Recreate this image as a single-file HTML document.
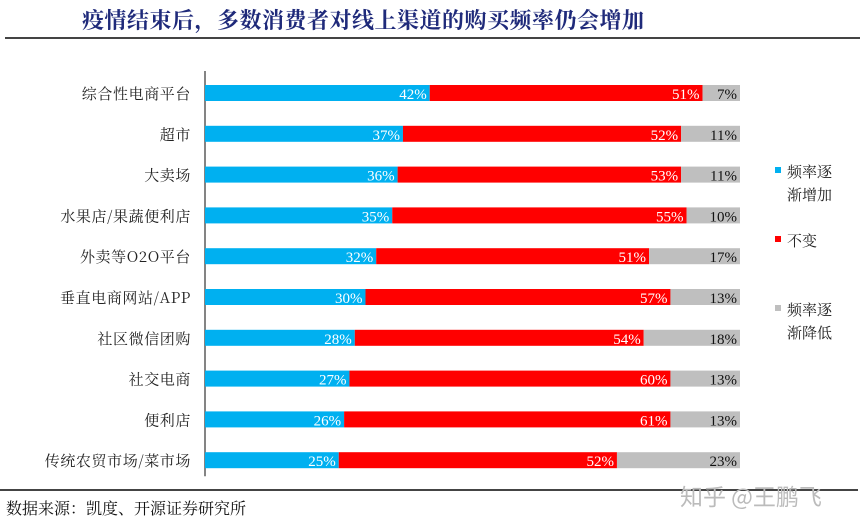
<!DOCTYPE html>
<html><head><meta charset="utf-8"><style>
body{margin:0;background:#fff;width:864px;height:529px;overflow:hidden;position:relative;font-family:"Liberation Serif","Noto Serif CJK SC",serif}
.t{position:absolute}
</style></head><body>
<div class="t" style="left:82px;top:4px;font-size:22px;font-weight:bold;color:#1f2a7a;font-family:'Noto Serif CJK SC',serif;letter-spacing:0.5px">疫情结束后，多数消费者对线上渠道的购买频率仍会增加</div>
<div class="t" style="left:5px;top:37px;width:855px;height:2px;background:#444"></div>
<svg class="t" style="left:0;top:0" width="864" height="529" id="chart"></svg>
<div class="t" style="left:0;top:489px;width:858px;height:2px;background:#444"></div>
<div class="t" style="left:6px;top:496px;font-size:16px;color:#111;font-family:'Noto Serif CJK SC',serif">数据来源：凯度、开源证券研究所</div>
<div class="t" style="left:680px;top:478px;font-size:23px;color:#bbb;font-family:'Noto Sans CJK SC',sans-serif">知乎 @王鹏飞</div>
<script>
const categories=["综合性电商平台","超市","大卖场","水果店/果蔬便利店","外卖等O2O平台","垂直电商网站/APP","社区微信团购","社交电商","便利店","传统农贸市场/菜市场"];
const increase=[42,37,36,35,32,30,28,27,26,25];
const same=[51,52,53,55,51,57,54,60,61,52];
const decrease=[7,11,11,10,17,13,18,13,13,23];
const seriesNames=["频率逐渐增加","不变","频率逐渐降低"];
const colors=["#00b0f0","#ff0000","#bfbfbf"];
const NS="http://www.w3.org/2000/svg";
const svg=document.getElementById('chart');
const x0=205,pxPer=5.35,yTop=93,step=40.8,bh=16;
const X=v=>x0+v*pxPer;
const Y=i=>yTop+i*step;
function mk(t,a){const e=document.createElementNS(NS,t);for(const k in a)e.setAttribute(k,a[k]);svg.appendChild(e);return e;}
const ax=mk('line',{x1:x0,x2:x0,y1:Y(0)-22,y2:Y(categories.length-1)+16,stroke:'#333','stroke-width':1.2});


categories.forEach((c,i)=>{
  const lb=mk('text',{x:x0-14,y:Y(i)+6,'text-anchor':'end','font-size':15,fill:'#222','letter-spacing':'0.6','font-family':"'Noto Serif CJK SC',serif"});
  lb.textContent=c;
  
  
  const vals=[increase[i],same[i],decrease[i]];
  let acc=0;
  vals.forEach((v,s)=>{
    const r=mk('rect',{x:X(acc),y:Y(i)-bh/2,width:v*pxPer,height:bh,fill:colors[s]});
    
    
    const tx=mk('text',{x:X(acc+v)-3,y:Y(i)+6,'text-anchor':'end','font-size':15,fill:s==2?'#111':'#fff','font-family':"'Liberation Serif',serif"});
    tx.textContent=v+'%';
    
    
    acc+=v;
  });
});
const legY=[[172,195],[241],[310,333]];
const legText=[["频率逐","渐增加"],["不变"],["频率逐","渐降低"]];
legText.forEach((ls,s)=>{
  const sq=mk('rect',{x:775,y:legY[s][0]-5,width:6,height:6,fill:colors[s]});
  
  
  ls.forEach((l,j)=>{
    const t=mk('text',{x:787,y:legY[s][j]+5,'font-size':15,fill:'#222','font-family':"'Noto Serif CJK SC',serif"});
    t.textContent=l;
    
    
  });
});
</script>
</body></html>
